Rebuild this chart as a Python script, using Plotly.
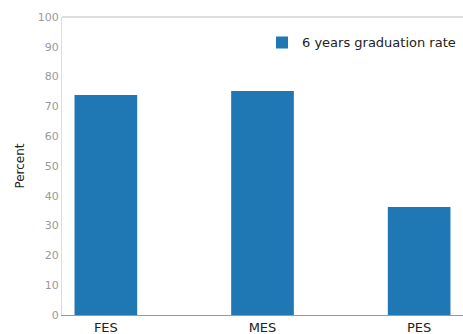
import plotly.graph_objects as go

categories = ["FES", "MES", "PES"]
grad_rate = [73.8, 75.2, 36.2]
y_ticks = list(range(0, 101, 10))
series_name = "6 years graduation rate"

fig = go.Figure()
fig.add_trace(go.Bar(
    x=categories,
    y=grad_rate,
    name=series_name,
    width=0.4,
    marker=dict(color="#1f77b4", line=dict(width=0)),
    showlegend=True,
))

fig.update_layout(
    width=463,
    height=334,
    margin=dict(l=62, r=0, t=17, b=19),
    plot_bgcolor="white",
    paper_bgcolor="white",
    font=dict(family="DejaVu Sans, sans-serif", color="#222222"),
    showlegend=True,
    legend=dict(
        x=0.995, y=0.965, xanchor="right", yanchor="top",
        bgcolor="rgba(255,255,255,0.9)",
        borderwidth=0,
        font=dict(size=13, color="#222222"),
    ),
    xaxis=dict(
        range=[-0.28, 2.28],
        showline=True, linecolor="#999999", linewidth=1,
        mirror=False, ticks="", showgrid=False,
        tickfont=dict(size=13, color="#222222"),
        ticklabelstandoff=0,
    ),
    yaxis=dict(
        range=[0, 100],
        tickvals=y_ticks,
        showline=True, linecolor="#dddddd", linewidth=1,
        ticks="", showgrid=False, zeroline=False,
        tickfont=dict(size=11, color="#999999"),
        title=dict(text="Percent", font=dict(size=12, color="#222222"), standoff=10),
    ),
)

# top spine across the plotting area
fig.add_shape(type="line", xref="paper", yref="paper", x0=0, x1=1, y0=1, y1=1,
              line=dict(color="#bbbbbb", width=1))

fig.write_html("out.html")
